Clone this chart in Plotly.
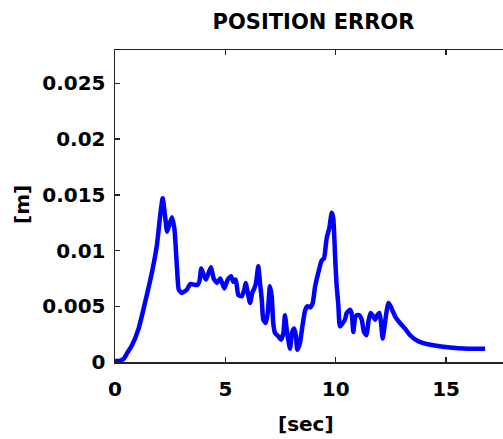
import plotly.graph_objects as go

time_sec = [0, 0.2, 0.4, 0.55, 0.77, 1.07, 1.37, 1.68, 1.90, 2.05,
            2.16, 2.28, 2.36, 2.46, 2.58, 2.69, 2.81, 2.89, 3.04, 3.26,
            3.41, 3.72, 3.82, 3.91, 4.02, 4.12, 4.24, 4.35, 4.47, 4.62,
            4.77, 4.95, 5.11, 5.26, 5.36, 5.47, 5.59, 5.74, 5.86, 5.92,
            6.01, 6.12, 6.22, 6.31, 6.39, 6.49, 6.57, 6.65, 6.72, 6.83,
            6.92, 7.02, 7.10, 7.17, 7.25, 7.40, 7.52, 7.63, 7.70, 7.78,
            7.85, 7.93, 8.03, 8.12, 8.20, 8.26, 8.38, 8.49, 8.61, 8.71,
            8.84, 8.96, 9.06, 9.21, 9.36, 9.47, 9.59, 9.71, 9.82, 9.89,
            9.97, 10.04, 10.12, 10.19, 10.32, 10.42, 10.50, 10.65, 10.72, 10.80,
            10.87, 10.95, 11.07, 11.18, 11.28, 11.40, 11.48, 11.58, 11.67, 11.78,
            11.88, 11.98, 12.05, 12.13, 12.20, 12.28, 12.38, 12.49, 12.69, 12.91,
            13.14, 13.37, 13.70, 13.97, 14.42, 15.18, 16.0, 16.77]

position_error = [0.0001, 0.0001, 0.0003, 0.0008, 0.0015, 0.0030, 0.0054, 0.0081, 0.0105, 0.0132,
                  0.0147, 0.0129, 0.0117, 0.0123, 0.0130, 0.0120, 0.0084, 0.0065, 0.0062, 0.0065,
                  0.0070, 0.0069, 0.0072, 0.0084, 0.0078, 0.0074, 0.0080, 0.0085, 0.0075, 0.0071,
                  0.0075, 0.0066, 0.0074, 0.0077, 0.0072, 0.0074, 0.0060, 0.0059, 0.0065, 0.0071,
                  0.0063, 0.0053, 0.0062, 0.0066, 0.0071, 0.0086, 0.0071, 0.0056, 0.0038, 0.0035,
                  0.0044, 0.0068, 0.0059, 0.0035, 0.0026, 0.0023, 0.0020, 0.0026, 0.0042, 0.0029,
                  0.0020, 0.0012, 0.0027, 0.0030, 0.0023, 0.0011, 0.0017, 0.0032, 0.0046, 0.0050,
                  0.0049, 0.0053, 0.0067, 0.0080, 0.0091, 0.0093, 0.0111, 0.0120, 0.0134, 0.0129,
                  0.0096, 0.0069, 0.0051, 0.0032, 0.0035, 0.0038, 0.0044, 0.0047, 0.0044, 0.0027,
                  0.0039, 0.0042, 0.0042, 0.0038, 0.0027, 0.0024, 0.0036, 0.0044, 0.0042, 0.0038,
                  0.0042, 0.0044, 0.0036, 0.0021, 0.0030, 0.0042, 0.0053, 0.0050, 0.0041, 0.0035,
                  0.0030, 0.0024, 0.0019, 0.0017, 0.0015, 0.0013, 0.0012, 0.0012]

x_ticks = [0, 5, 10, 15]
x_tick_labels = ["0", "5", "10", "15"]
y_ticks = [0, 0.005, 0.01, 0.015, 0.02, 0.025]
y_tick_labels = ["0", "0.005", "0.01", "0.015", "0.02", "0.025"]

FONT = "DejaVu Sans"

fig = go.Figure()
fig.add_trace(go.Scatter(
    x=time_sec, y=position_error, mode="lines",
    line=dict(color="#0000FF", width=4.5, shape="spline", smoothing=0.5),
    showlegend=False, hoverinfo="skip",
))

fig.update_layout(
    width=503, height=439,
    margin=dict(l=115, r=0, t=50, b=77),
    paper_bgcolor="white", plot_bgcolor="white",
    font=dict(family=FONT, size=20, color="black", weight="bold"),
    title=dict(text="POSITION ERROR", x=313.5 / 503, xanchor="center", xref="container",
               y=1 - 22 / 439, yanchor="middle", yref="container",
               font=dict(family=FONT, size=21, color="black", weight="bold")),
    xaxis=dict(range=[0, 17.58], tickvals=x_ticks, ticktext=x_tick_labels,
               showgrid=False, zeroline=False, showline=True, linecolor="#222222",
               linewidth=1.5, mirror="ticks", ticks="inside", ticklen=5, tickwidth=1.5,
               tickcolor="#222222", ticklabelstandoff=8,
               tickfont=dict(family=FONT, size=20, color="black", weight="bold")),
    yaxis=dict(range=[0, 0.028], tickvals=y_ticks, ticktext=y_tick_labels,
               showgrid=False, zeroline=False, showline=True, linecolor="#222222",
               linewidth=1.5, mirror=False, ticks="inside", ticklen=5, tickwidth=1.5,
               tickcolor="#222222", ticklabelstandoff=4,
               tickfont=dict(family=FONT, size=20, color="black", weight="bold")),
    annotations=[
        dict(text="[sec]", x=(306 - 115) / 388, y=(362 - 424) / 312, xref="paper", yref="paper",
             xanchor="center", yanchor="middle", showarrow=False,
             font=dict(family=FONT, size=20, color="black", weight="bold")),
        dict(text="[m]", x=(22 - 115) / 388, y=(362 - 205) / 312, xref="paper", yref="paper",
             xanchor="center", yanchor="middle", showarrow=False, textangle=-90,
             font=dict(family=FONT, size=20, color="black", weight="bold")),
    ],
)

fig.write_html(
    "out.html",
    config={"displayModeBar": False, "staticPlot": True},
    post_script="document.body.style.margin='0';document.body.style.overflow='hidden';",
)
